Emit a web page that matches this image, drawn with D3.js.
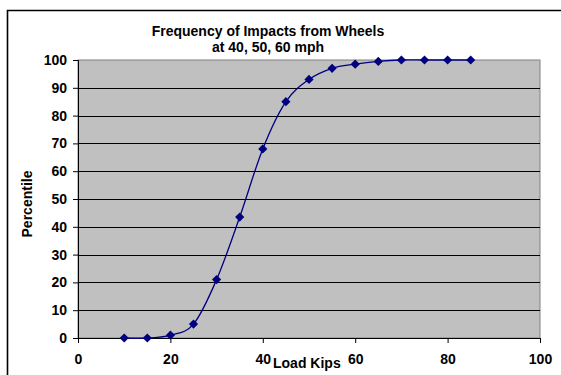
<!DOCTYPE html>
<html>
<head>
<meta charset="utf-8">
<script src="https://cdn.jsdelivr.net/npm/d3@7"></script>
<style>
  body { margin: 0; background: #fff; }
  svg { display: block; font-family: "Liberation Sans", Arial, sans-serif; }
</style>
</head>
<body>
<div id="chart"></div>
<script>
// DATA
const loadKips = [10, 15, 20, 25, 30, 35, 40, 45, 50, 55, 60, 65, 70, 75, 80, 85];
const percentile = [0, 0, 1, 5, 21, 43.5, 68, 85, 93, 97, 98.5, 99.5, 100, 100, 100, 100];
const xTicks = [0, 20, 40, 60, 80, 100];
const yTicks = [0, 10, 20, 30, 40, 50, 60, 70, 80, 90, 100];
const titleLines = ["Frequency of Impacts from Wheels", "at 40, 50, 60 mph"];

const W = 561, H = 375;
const margin = { top: 60, right: 21, bottom: 37, left: 78 };
const iw = W - margin.left - margin.right;
const ih = H - margin.top - margin.bottom;

const svg = d3.select("#chart").append("svg")
  .attr("width", W).attr("height", H);

// outer frame
svg.append("path")
  .attr("d", `M7.5,${H} V10.5 H${W}`)
  .attr("fill", "none").attr("stroke", "#000").attr("stroke-width", 1.6);

const x = d3.scaleLinear([0, 100], [0, iw]);
const y = d3.scaleLinear([0, 100], [ih, 0]);

const g = svg.append("g").attr("transform", `translate(${margin.left},${margin.top})`);

// plot area
g.append("rect").attr("width", iw).attr("height", ih)
  .attr("fill", "#c0c0c0").attr("stroke", "#808080").attr("stroke-width", 1);

// gridlines
g.append("g").selectAll("line")
  .data(yTicks.filter(d => d > 0 && d < 100))
  .join("line")
  .attr("x1", 0).attr("x2", iw)
  .attr("y1", d => Math.round(y(d)) + 0.5).attr("y2", d => Math.round(y(d)) + 0.5)
  .attr("stroke", "#000").attr("stroke-width", 1);

// axes
const yAxis = g.append("g")
  .call(d3.axisLeft(y).tickValues(yTicks).tickSize(5).tickPadding(6));
const xAxis = g.append("g").attr("transform", `translate(0,${ih})`)
  .call(d3.axisBottom(x).tickValues(xTicks).tickSize(5).tickPadding(11));
[yAxis, xAxis].forEach(a => {
  a.select(".domain").attr("stroke", "#000");
  a.selectAll(".tick line").attr("stroke", "#000");
  a.selectAll("text").attr("font-size", 14).attr("font-weight", "bold")
    .attr("font-family", "Liberation Sans, Arial, sans-serif").attr("fill", "#000");
});

// series
const pts = loadKips.map((k, i) => [k, percentile[i]]);
g.append("path")
  .datum(pts)
  .attr("fill", "none").attr("stroke", "#000080").attr("stroke-width", 1.3)
  .attr("d", d3.line().x(d => x(d[0])).y(d => y(d[1])).curve(d3.curveCardinal.tension(0)));

const r = 4.6;
g.append("g").selectAll("path")
  .data(pts)
  .join("path")
  .attr("transform", d => `translate(${x(d[0])},${y(d[1])})`)
  .attr("d", `M0,${-r}L${r},0L0,${r}L${-r},0Z`)
  .attr("fill", "#000080");

// title
svg.append("g").selectAll("text")
  .data(titleLines)
  .join("text")
  .attr("x", 268).attr("y", (d, i) => 36 + i * 16)
  .attr("text-anchor", "middle")
  .attr("font-size", 14).attr("font-weight", "bold")
  .text(d => d);

// axis titles
svg.append("text")
  .attr("x", 273).attr("y", 368)
  .attr("font-size", 14).attr("font-weight", "bold")
  .text("Load Kips");

svg.append("text")
  .attr("transform", "translate(32,204) rotate(-90)")
  .attr("text-anchor", "middle")
  .attr("font-size", 14).attr("font-weight", "bold")
  .text("Percentile");
</script>
</body>
</html>
